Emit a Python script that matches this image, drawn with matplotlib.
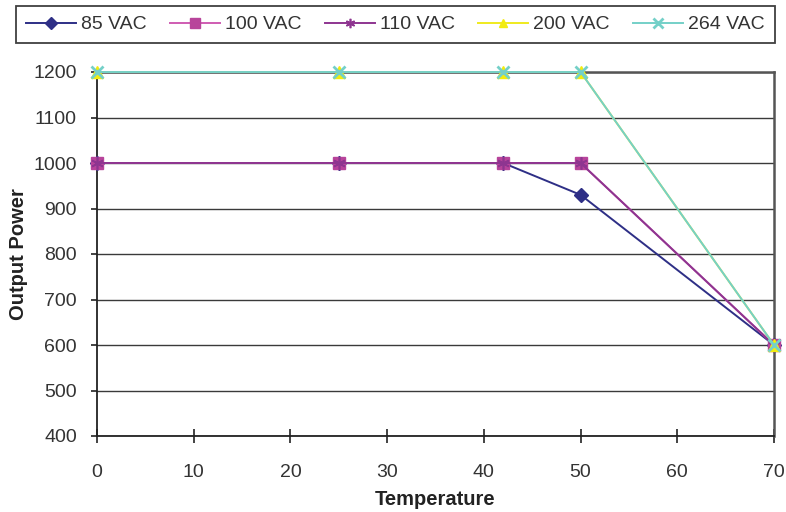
import matplotlib
matplotlib.use("Agg")
import matplotlib.pyplot as plt

plt.rcParams['font.family'] = ['Liberation Sans', 'DejaVu Sans']

temperature = [0, 25, 42, 50, 70]
series_names = ["85 VAC", "100 VAC", "110 VAC", "200 VAC", "264 VAC"]
power_85 = [1000, 1000, 1000, 930, 600]
power_100 = [1000, 1000, 1000, 1000, 600]
power_110 = [1000, 1000, 1000, 1000, 600]
power_200 = [1200, 1200, 1200, 1200, 600]
power_264 = [1200, 1200, 1200, 1200, 600]
x_ticks = [0, 10, 20, 30, 40, 50, 60, 70]
y_ticks = [400, 500, 600, 700, 800, 900, 1000, 1100, 1200]

styles = [
    dict(color="#2E2F86", marker="D", ms=7.5, mfc="#2E2F86", mec="#2E2F86"),
    dict(color="#CF5CB2", marker="s", ms=9, mfc="#B8449B", mec="#B8449B"),
    dict(color="#8E3590", marker=(6, 2, 0), ms=9, mfc="#8E3590", mec="#8E3590", mew=1.2),
    dict(color="#EFEA1E", marker="^", ms=8, mfc="#F2EC10", mec="#F2EC10"),
    dict(color="#74D0C8", marker="x", ms=9, mfc="#74D0C8", mec="#74D0C8", mew=2),
]
series = [power_85, power_100, power_110, power_200, power_264]

fig = plt.figure(figsize=(7.86, 5.12), dpi=100)
ax = fig.add_axes([97 / 786, 1 - 436 / 512, 677 / 786, 364 / 512])

for y in y_ticks:
    ax.axhline(y, color="#3a3a3a", lw=1.0, zorder=1)

handles = []
for name, vals, st in zip(series_names, series, styles):
    line, = ax.plot(temperature, vals, lw=1.4, zorder=3, clip_on=False, label=name, **st)
    handles.append(line)

ax.set_xlim(0, 70)
ax.set_ylim(400, 1200)
ax.set_xticks(x_ticks)
ax.set_yticks(y_ticks)
ax.tick_params(axis="x", direction="inout", length=10, width=1.2, color="#222222",
               labelsize=14, labelcolor="#333333", pad=15.5)
ax.tick_params(axis="y", direction="out", length=4.5, width=1.2, color="#222222",
               labelsize=14, labelcolor="#333333", pad=10)

for side in ("left", "bottom"):
    ax.spines[side].set_color("#222222")
    ax.spines[side].set_linewidth(1.3)
for side in ("top", "right"):
    ax.spines[side].set_color("#555555")
    ax.spines[side].set_linewidth(1.8)

ax.set_xlabel("Temperature", fontsize=14.5, fontweight="bold", color="#222222", labelpad=6)
ax.set_ylabel("Output Power", fontsize=14.5, fontweight="bold", color="#222222", labelpad=4)

leg = fig.legend(handles=handles, loc="upper left", ncol=5,
                 bbox_to_anchor=(16 / 786, 1 - 6 / 512),
                 prop={"size": 14},
                 handlelength=2.6, handletextpad=0.25, columnspacing=1.18,
                 borderpad=0.5, frameon=True, fancybox=False, borderaxespad=0)
leg.get_frame().set_edgecolor("#111111")
leg.get_frame().set_linewidth(1.3)
for t in leg.get_texts():
    t.set_color("#333333")
for lh in leg.legend_handles:
    lh.set_markersize(lh.get_markersize() * 0.75)

fig.savefig("out.png", dpi=100)
